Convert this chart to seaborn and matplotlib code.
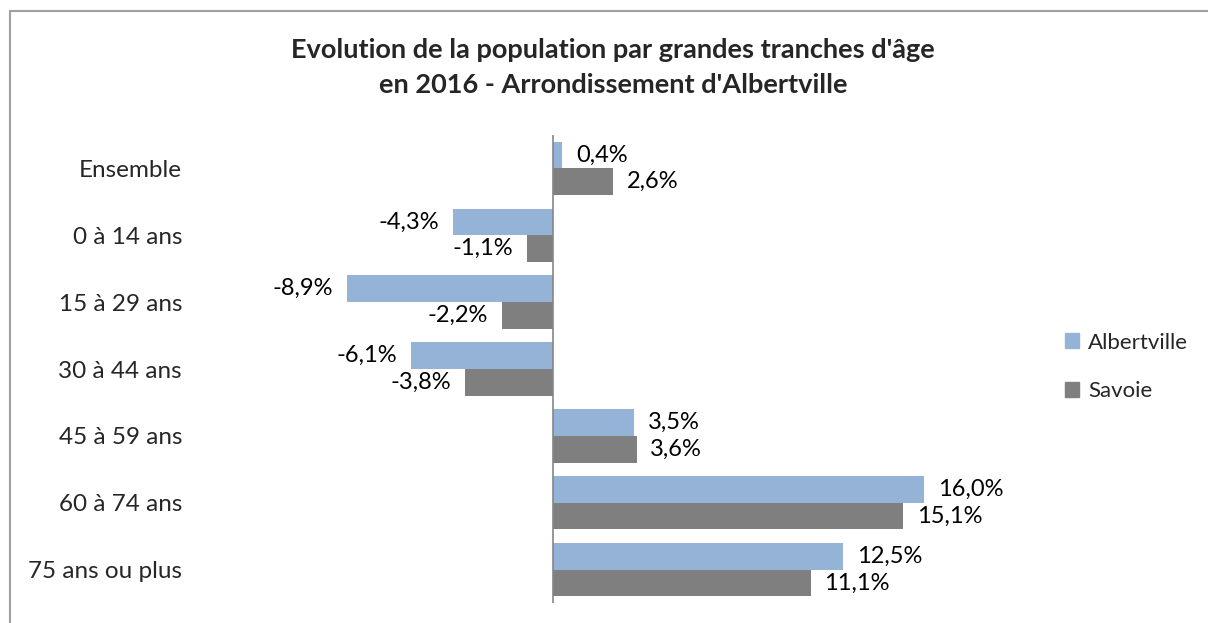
import matplotlib
matplotlib.use("Agg")
import matplotlib.pyplot as plt
import seaborn as sns
import pandas as pd
from matplotlib.patches import Rectangle
from matplotlib.lines import Line2D

categories = ["Ensemble", "0 à 14 ans", "15 à 29 ans", "30 à 44 ans",
              "45 à 59 ans", "60 à 74 ans", "75 ans ou plus"]
albertville = [0.4, -4.3, -8.9, -6.1, 3.5, 16.0, 12.5]
savoie = [2.6, -1.1, -2.2, -3.8, 3.6, 15.1, 11.1]
series = ["Albertville", "Savoie"]
colors = ["#95B3D7", "#7F7F7F"]

df = pd.DataFrame({
    "cat": categories * 2,
    "val": albertville + savoie,
    "serie": [series[0]] * len(categories) + [series[1]] * len(categories),
})

sns.set_style("white")
plt.rcParams["font.family"] = ["Lato", "DejaVu Sans"]

W, H = 1208, 623
fig = plt.figure(figsize=(W / 100, H / 100), dpi=100)
ax = fig.add_axes([321 / W, 20 / H, 696 / W, 468 / H])

sns.barplot(data=df, y="cat", x="val", hue="serie", orient="h",
            palette=colors, width=0.8, ax=ax, legend=False, saturation=1,
            linewidth=0)

for cont in ax.containers:
    labels = [f"{v:.1f}%".replace(".", ",") for v in cont.datavalues]
    ax.bar_label(cont, labels=labels, padding=10, fontsize=17, color="#000000")

ax.set_xlim(-10, 20)
ax.set_ylim(len(categories) - 0.5, -0.5)
ax.set_xlabel("")
ax.set_ylabel("")
ax.set_xticks([])
for s in ["top", "right", "bottom", "left"]:
    ax.spines[s].set_visible(False)
ax.axvline(0, color="#868686", lw=1.2)
ax.tick_params(axis="y", length=0, labelsize=17.5, pad=100)

fig.text(613 / W, 1 - 50 / H, "Evolution de la population par grandes tranches d'âge",
         ha="center", va="center", fontsize=19.5, fontweight="bold")
fig.text(613 / W, 1 - 85 / H, "en 2016 - Arrondissement d'Albertville",
         ha="center", va="center", fontsize=19.5, fontweight="bold")

handles = [Rectangle((0, 0), 1, 1, color=c) for c in colors]
fig.legend(handles, series, loc="center left", bbox_to_anchor=(1045 / W, 1 - 367 / H),
           frameon=False, fontsize=16, labelspacing=1.3, handlelength=0.65,
           handleheight=0.65, handletextpad=0.4)

fig.lines.append(Line2D([9.5 / W, 9.5 / W], [0, 1 - 10.5 / H], transform=fig.transFigure,
                        color="#A0A0A0", lw=1.5))
fig.lines.append(Line2D([9.5 / W, 1], [1 - 10.5 / H, 1 - 10.5 / H], transform=fig.transFigure,
                        color="#A0A0A0", lw=1.5))

fig.savefig("out.png", dpi=100)
